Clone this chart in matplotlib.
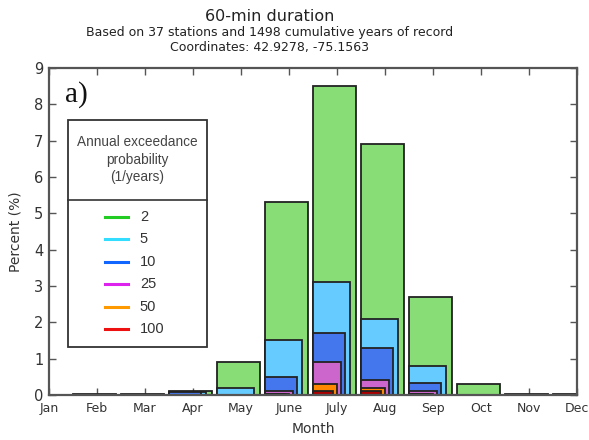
import matplotlib
matplotlib.use("Agg")
import matplotlib.pyplot as plt
from matplotlib.patches import Rectangle
from matplotlib.lines import Line2D
import numpy as np

months = ['Jan', 'Feb', 'Mar', 'Apr', 'May', 'June', 'July', 'Aug', 'Sep', 'Oct', 'Nov', 'Dec']
p2 = [0.0, 0.02, 0.02, 0.1, 0.9, 5.3, 8.5, 6.9, 2.7, 0.3, 0.02, 0.02]
p5 = [0.0, 0.0, 0.0, 0.08, 0.2, 1.5, 3.1, 2.1, 0.8, 0.0, 0.0, 0.0]
p10 = [0.0, 0.0, 0.0, 0.08, 0.0, 0.5, 1.7, 1.3, 0.33, 0.0, 0.0, 0.0]
p25 = [0.0, 0.0, 0.0, 0.0, 0.0, 0.1, 0.92, 0.4, 0.1, 0.0, 0.0, 0.0]
p50 = [0.0, 0.0, 0.0, 0.0, 0.0, 0.03, 0.3, 0.2, 0.04, 0.0, 0.0, 0.0]
p100 = [0.0, 0.0, 0.0, 0.0, 0.0, 0.02, 0.1, 0.1, 0.02, 0.0, 0.0, 0.0]
labels = ['2', '5', '10', '25', '50', '100']
series = [p2, p5, p10, p25, p50, p100]

fill_colors = ['#88dd77', '#66ccff', '#4477ee', '#cc66cc', '#ff8800', '#aa0000']
line_colors = ['#22cc22', '#33ddff', '#1166ff', '#dd22ee', '#ff9900', '#ee1111']
widths = [0.9, 0.77, 0.67, 0.58, 0.5, 0.42]

fig = plt.figure(figsize=(5.89, 4.40), dpi=100)
ax = fig.add_axes([0.0832, 0.1023, 0.8964, 0.7432])

x = np.arange(1, 13)
for vals, fc, w in zip(series, fill_colors, widths):
    ax.bar(x - 0.5, vals, width=w, align='edge', color=fc,
           edgecolor='#222222', linewidth=1.3, zorder=2)

ax.set_xlim(1, 12)
ax.set_ylim(0, 9)
ax.set_xticks(x)
ax.set_xticklabels(months, fontsize=9, color='#333333')
ax.set_yticks(np.arange(0, 10))
ax.set_yticklabels([str(i) for i in range(10)], fontsize=10.5, color='#333333')
ax.tick_params(direction='in', length=5, width=1, top=True, right=True,
               colors='#555555', labelcolor='#333333')
ax.tick_params(axis='x', pad=5)
ax.tick_params(axis='y', pad=4)
for s in ax.spines.values():
    s.set_color('#555555')
    s.set_linewidth(1.6)
    s.set_zorder(5)
ax.set_xlabel('Month', fontsize=10, color='#333333', labelpad=5)
ax.set_ylabel('Percent (%)', fontsize=10, color='#333333', labelpad=8)

ax.text(0.03, 0.96, 'a)', transform=ax.transAxes, fontsize=21,
        family='Liberation Serif', va='top', ha='left', color='#111111')

# legend box
x0, x1 = 0.036, 0.299
yb, yt = 0.147, 0.841
ax.add_patch(Rectangle((x0, yb), x1 - x0, yt - yb, transform=ax.transAxes,
                       facecolor='white', edgecolor='#333333', linewidth=1.3, zorder=6))
xc = (x0 + x1) / 2
ax.text(xc, 0.72, 'Annual exceedance\nprobability\n(1/years)', transform=ax.transAxes,
        ha='center', va='center', fontsize=9.8, family='Liberation Sans',
        color='#444444', linespacing=1.35, zorder=7)
ax.add_line(Line2D([x0, x1], [0.596, 0.596], transform=ax.transAxes,
                   color='#333333', linewidth=1.2, zorder=7))
for i, (lab, lc) in enumerate(zip(labels, line_colors)):
    yy = (395 - (217 + i * 22.4)) / 327
    ax.add_line(Line2D([0.107, 0.150], [yy, yy], transform=ax.transAxes,
                       color=lc, linewidth=2.2, zorder=7))
    ax.text(0.172, yy, lab, transform=ax.transAxes, ha='left', va='center',
            fontsize=10.5, family='Liberation Sans', color='#333333', zorder=7)

fig.text(0.458, 0.962, '60-min duration', ha='center', va='center', fontsize=11.5, color='#222222')
fig.text(0.458, 0.927, 'Based on 37 stations and 1498 cumulative years of record',
         ha='center', va='center', fontsize=9, color='#222222')
fig.text(0.458, 0.893, 'Coordinates: 42.9278, -75.1563', ha='center', va='center',
         fontsize=9, color='#222222')

fig.savefig('out.png', dpi=100)
